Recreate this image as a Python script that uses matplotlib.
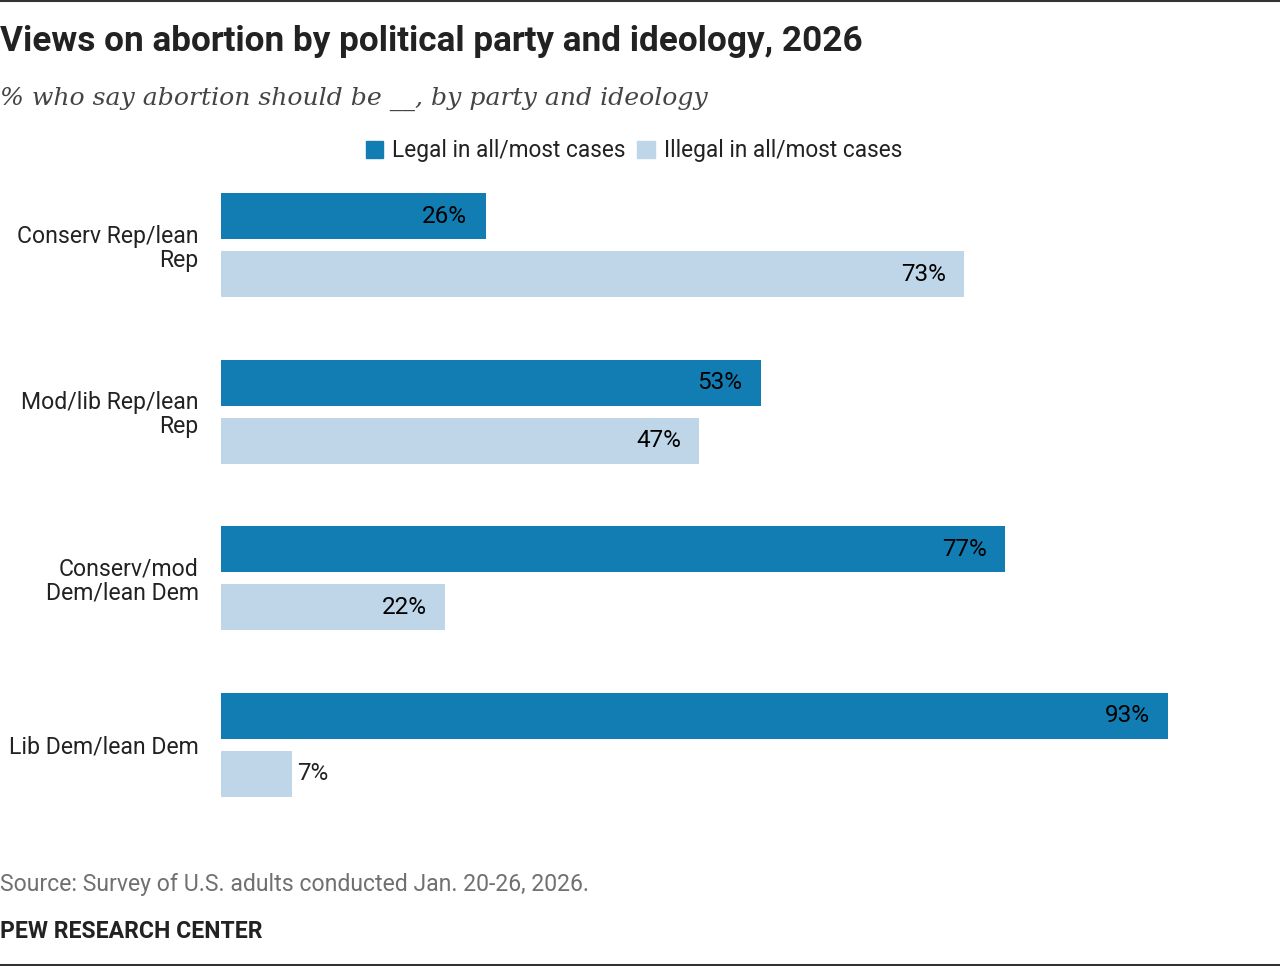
import matplotlib
matplotlib.use("Agg")
import matplotlib.pyplot as plt
from matplotlib.patches import Patch
from matplotlib.lines import Line2D

# data
groups = ["Conserv Rep/lean\nRep", "Mod/lib Rep/lean\nRep",
          "Conserv/mod\nDem/lean Dem", "Lib Dem/lean Dem"]
legal = [26, 53, 77, 93]
illegal = [73, 47, 22, 7]
series_names = ["Legal in all/most cases", "Illegal in all/most cases"]

dark = "#127db3"
light = "#bfd6e9"
txt = "#222222"

sans = ["Roboto", "DejaVu Sans"]

fig = plt.figure(figsize=(12.8, 9.66), dpi=100)

# page rules at top and bottom
fig.add_artist(Line2D([0, 1], [0.9995, 0.9995], color="#333333", lw=2.2))
fig.add_artist(Line2D([0, 1], [0.0015, 0.0015], color="#333333", lw=2.2))

fig.text(0.0, 1 - 42 / 966, "Views on abortion by political party and ideology, 2026",
         fontsize=25.3, fontweight="bold", family=sans, color=txt, va="center", ha="left")
fig.text(0.0, 1 - 99 / 966, "% who say abortion should be __, by party and ideology",
         fontsize=18.1, style="italic", family=["DejaVu Serif"],
         color="#444444", va="center", ha="left")

ax = fig.add_axes([221 / 1280, 1 - 828 / 966, 1018 / 1280, 666 / 966])

h = 0.276
off = 0.174
for i in range(len(groups)):
    ax.barh(i - off, legal[i], height=h, color=dark)
    ax.barh(i + off, illegal[i], height=h, color=light)
    for val, y in ((legal[i], i - off), (illegal[i], i + off)):
        if val >= 15:
            ax.text(val - 1.8, y, f"{val}%", ha="right", va="center",
                    fontsize=17.5, family=sans, color="black")
        else:
            ax.text(val + 0.5, y, f"{val}%", ha="left", va="center",
                    fontsize=17.5, family=sans, color=txt)

ax.set_xlim(0, 100)
ax.set_ylim(3.5, -0.5)
ax.set_yticks(range(len(groups)))
ax.set_yticklabels(groups, fontsize=16.6, family=sans, color=txt, linespacing=1.05)
ax.tick_params(axis="y", length=0, pad=16)
ax.set_xticks([])
for s in ax.spines.values():
    s.set_visible(False)

handles = [Patch(color=dark), Patch(color=light)]
fig.legend(handles, series_names, loc="center", bbox_to_anchor=(634 / 1280, 1 - 151 / 966),
           ncol=2, frameon=False, handlelength=0.78, handleheight=0.78,
           handletextpad=0.4, columnspacing=0.5, borderaxespad=0,
           prop={"family": sans, "size": 16.3}, labelcolor=txt)

fig.text(0.0, 1 - 885 / 966, "Source: Survey of U.S. adults conducted Jan. 20-26, 2026.",
         fontsize=16.6, family=sans, color="#707070", va="center", ha="left")
fig.text(0.0, 1 - 932 / 966, "PEW RESEARCH CENTER",
         fontsize=16.6, fontweight="bold", family=sans, color=txt, va="center", ha="left")

fig.savefig("out.png", dpi=100)
